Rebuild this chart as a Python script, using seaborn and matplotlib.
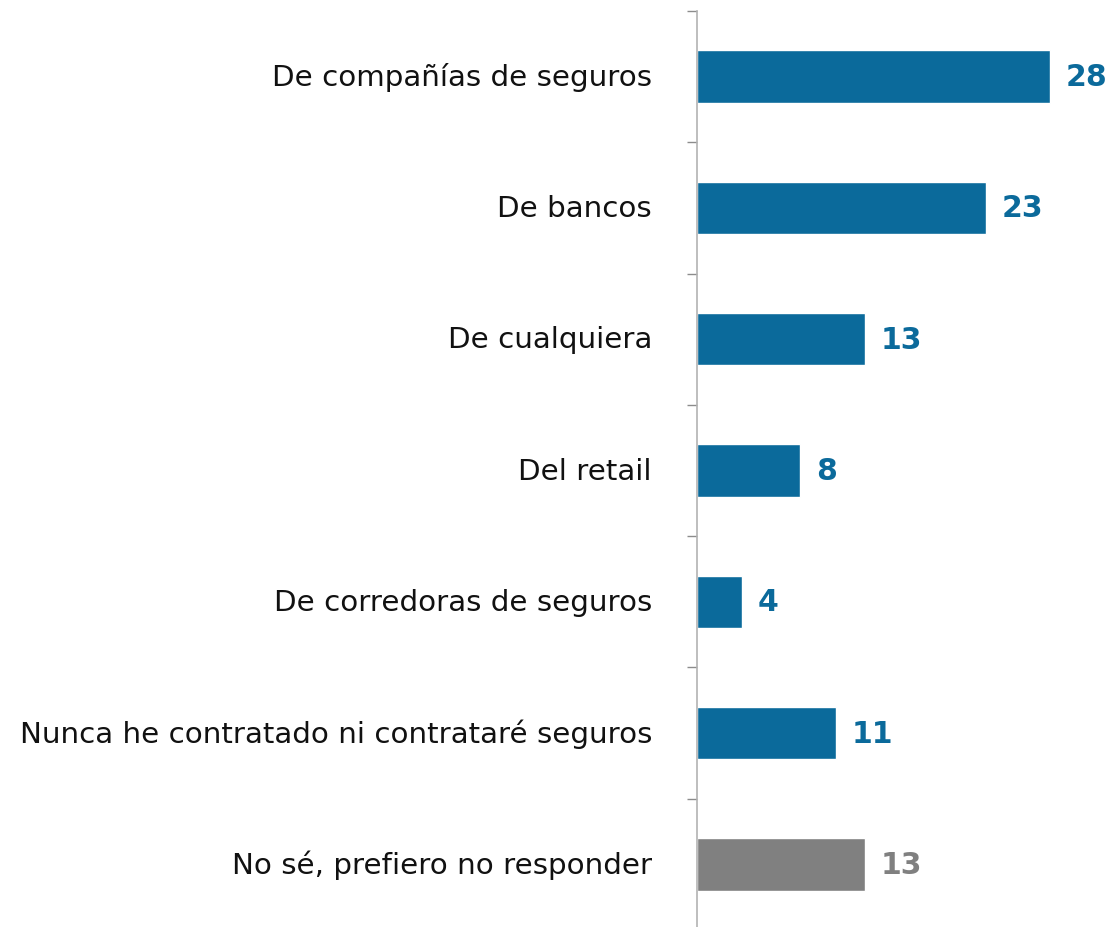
import matplotlib
matplotlib.use("Agg")
import matplotlib.pyplot as plt
import seaborn as sns
import pandas as pd

categories = [
    "De compañías de seguros",
    "De bancos",
    "De cualquiera",
    "Del retail",
    "De corredoras de seguros",
    "Nunca he contratado ni contrataré seguros",
    "No sé, prefiero no responder",
]
values = [28.0, 22.9, 13.3, 8.2, 3.6, 11.0, 13.3]
labels = ["28", "23", "13", "8", "4", "11", "13"]
colors = ["#0b6a9b"] * 6 + ["#808080"]

sns.set_theme(style="white")
plt.rcParams["font.family"] = ["DejaVu Sans"]

df = pd.DataFrame({"cat": categories, "val": values})

fig = plt.figure(figsize=(11.09, 9.28), dpi=100)
ax = fig.add_axes([697 / 1109, -3 / 928, 1 - 697 / 1109, 919 / 928])
sns.barplot(data=df, x="val", y="cat", hue="cat", palette=colors,
            legend=False, width=0.4, ax=ax, saturation=1)

ax.set_xlim(0, 32.7)
ax.set_ylim(6.5, -0.5)
ax.set_xlabel("")
ax.set_ylabel("")
ax.set_xticks([])
for s in ["top", "right", "bottom"]:
    ax.spines[s].set_visible(False)
ax.spines["left"].set_color("#b3b3b3")
ax.spines["left"].set_linewidth(1.2)

ax.tick_params(axis="y", which="major", length=0, pad=45 * 0.72,
               labelsize=21.2, labelcolor="#111111")
for t in ax.get_yticklabels():
    t.set_verticalalignment("center")
ax.set_yticks([i - 0.5 for i in range(8)], minor=True)
ax.tick_params(axis="y", which="minor", length=10 * 0.72, width=1,
               color="#8c8c8c", left=True)

for i, (v, lab, c) in enumerate(zip(values, labels, colors)):
    ax.text(v + 1.25, i, lab, va="center", ha="left", fontsize=21.5,
            fontweight="bold", color=c)

fig.savefig("out.png", dpi=100)
